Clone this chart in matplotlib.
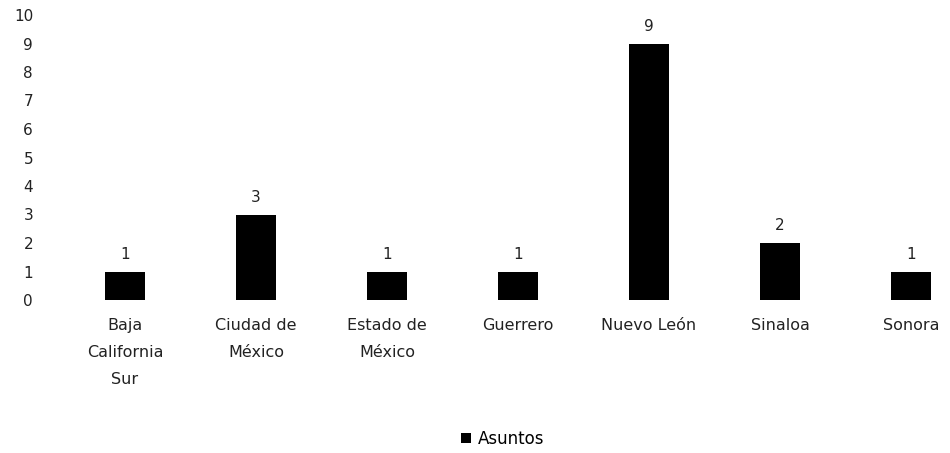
import matplotlib.pyplot as plt

estados = ['Baja\nCalifornia\nSur', 'Ciudad de\nMéxico', 'Estado de\nMéxico', 'Guerrero',
           'Nuevo León', 'Sinaloa', 'Sonora']
asuntos = [1, 3, 1, 1, 9, 2, 1]
y_ticks = list(range(0, 11))

plt.rcParams['font.family'] = ['DejaVu Sans']

fig = plt.figure(figsize=(9.5, 4.53), dpi=100)
# axes runs a bit past the right edge, like the original crop
ax = fig.add_axes([59.5 / 950, 153 / 453, 917 / 950, 285 / 453])

x = range(len(estados))
bars = ax.bar(x, asuntos, width=0.305, color='black', label='Asuntos')

for xi, v in zip(x, asuntos):
    ax.annotate(str(v), (xi, v), xytext=(0, 7), textcoords='offset points',
                ha='center', va='bottom', fontsize=11, color='#222222')

ax.set_xlim(-0.5, 6.5)
ax.set_ylim(0, 10)
ax.set_yticks(y_ticks)
ax.set_yticklabels([str(t) for t in y_ticks], fontsize=11, color='#222222')
ax.set_xticks(list(x))
ax.set_xticklabels(estados, fontsize=11.5, color='#222222', linespacing=2.0)
ax.tick_params(axis='both', length=0)
ax.tick_params(axis='y', pad=19)
ax.tick_params(axis='x', pad=13)

for s in ax.spines.values():
    s.set_visible(False)

fig.legend(handles=[bars], labels=['Asuntos'], loc='center', bbox_to_anchor=(503 / 950, 1 - 439 / 453),
           frameon=False, fontsize=12, handlelength=0.6, handleheight=0.6, handletextpad=0.4)

plt.savefig('out.png', dpi=100)
